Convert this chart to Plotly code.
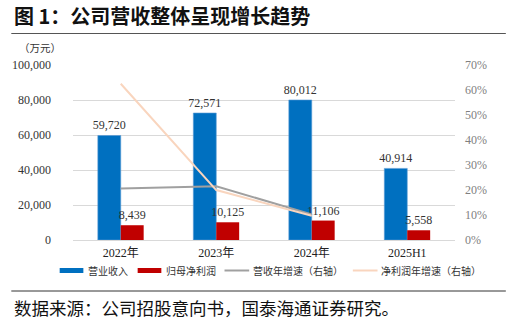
import plotly.graph_objects as go

# Data (万元 / growth rates)
years = ["2022年", "2023年", "2024年", "2025H1"]
revenue = [59720, 72571, 80012, 40914]
net_profit = [8439, 10125, 11106, 5558]
growth_years = ["2022年", "2023年", "2024年"]
revenue_growth = [0.206, 0.215, 0.1025]
profit_growth = [0.625, 0.1998, 0.0969]

serif = "Liberation Serif, Times New Roman, serif"
cjk = "Noto Sans CJK SC, sans-serif"

BLUE = "#0070C0"
RED = "#C00000"
GRAY = "#A0A0A0"
PEACH = "#F9D5BE"

fig = go.Figure()
fig.add_trace(go.Bar(
    x=years, y=revenue, name="营业收入", marker=dict(color=BLUE, line=dict(color="#5B9BD5", width=0.6)),
    text=[f"{v:,}" for v in revenue], textposition="outside", constraintext="none",
    textfont=dict(family=serif, size=12, color="#333333"), cliponaxis=False,
))
fig.add_trace(go.Bar(
    x=years, y=net_profit, name="归母净利润", marker=dict(color=RED, line=dict(width=0)),
    text=[f"{v:,}" for v in net_profit], textposition="outside", constraintext="none",
    textfont=dict(family=serif, size=12, color="#333333"), cliponaxis=False,
))
fig.add_trace(go.Scatter(
    x=growth_years, y=revenue_growth, name="营收年增速（右轴）", yaxis="y2",
    mode="lines", line=dict(color=GRAY, width=2),
))
fig.add_trace(go.Scatter(
    x=growth_years, y=profit_growth, name="净利润年增速（右轴）", yaxis="y2",
    mode="lines", line=dict(color=PEACH, width=2),
))

# Plot area in pixels
W, H = 513, 323
L, R, T, B = 68.5, 455.5, 65, 240

fig.update_layout(
    width=W, height=H,
    margin=dict(l=L, r=W - R, t=T, b=H - B, pad=0),
    paper_bgcolor="white", plot_bgcolor="white",
    barmode="group", bargap=0.52, bargroupgap=0,
    showlegend=False,
    xaxis=dict(
        type="category", categoryorder="array", categoryarray=years,
        showgrid=False, showline=False, ticks="",
        tickfont=dict(family=serif + ", " + cjk, size=12, color="#222222"),
        ticklabelstandoff=4,
    ),
    yaxis=dict(
        range=[0, 100000], dtick=20000, tickformat=",d",
        showgrid=True, gridcolor="#D9D9D9", gridwidth=1,
        zeroline=True, zerolinecolor="#D9D9D9", zerolinewidth=1,
        showline=False, ticks="",
        tickfont=dict(family=serif, size=12, color="#333333"),
        ticklabelstandoff=21,
    ),
    yaxis2=dict(
        overlaying="y", side="right", range=[0, 0.7], dtick=0.1, tickformat=".0%",
        showgrid=False, zeroline=False, showline=False, ticks="",
        tickfont=dict(family=serif, size=12, color="#7F7F7F"),
        ticklabelstandoff=9,
    ),
)

# Convert page pixels to paper coordinates (paper = plot area)
def px_x(x):
    return (x - L) / (R - L)

def px_y(y):
    return (B - y) / (B - T)

annotations = []
shapes = []

# Title and rule
annotations.append(dict(
    text="<b>图 1：公司营收整体呈现增长趋势</b>", xref="paper", yref="paper",
    x=px_x(7), y=px_y(16), xanchor="left", yanchor="middle", showarrow=False,
    font=dict(family=cjk, size=20, color="#111111"),
))
shapes.append(dict(type="line", xref="paper", yref="paper",
                   x0=px_x(6), x1=px_x(507), y0=px_y(33.5), y1=px_y(33.5),
                   line=dict(color="#555555", width=1)))

# Unit label
annotations.append(dict(
    text="（万元）", xref="paper", yref="paper",
    x=px_x(12), y=px_y(47), xanchor="left", yanchor="middle", showarrow=False,
    font=dict(family=cjk, size=10.5, color="#333333"),
))

# Legend row
legend_items = [
    ("bar", BLUE, "营业收入", 55),
    ("bar", RED, "归母净利润", 134),
    ("line", GRAY, "营收年增速（右轴）", 222),
    ("line", PEACH, "净利润年增速（右轴）", 352),
]
ly = 270.5
for kind, color, label, x0 in legend_items:
    if kind == "bar":
        shapes.append(dict(type="rect", xref="paper", yref="paper",
                           x0=px_x(x0), x1=px_x(x0 + 24), y0=px_y(ly - 2.5), y1=px_y(ly + 2.5),
                           fillcolor=color, line=dict(width=0)))
    else:
        shapes.append(dict(type="line", xref="paper", yref="paper",
                           x0=px_x(x0), x1=px_x(x0 + 25), y0=px_y(ly), y1=px_y(ly),
                           line=dict(color=color, width=2)))
    annotations.append(dict(
        text=label, xref="paper", yref="paper",
        x=px_x(x0 + 27), y=px_y(ly), xanchor="left", yanchor="middle", showarrow=False,
        font=dict(family=cjk, size=10, color="#333333"),
    ))

# Bottom rule and source
shapes.append(dict(type="line", xref="paper", yref="paper",
                   x0=px_x(6), x1=px_x(507), y0=px_y(291), y1=px_y(291),
                   line=dict(color="#333333", width=1)))
annotations.append(dict(
    text="数据来源：公司招股意向书，国泰海通证券研究。", xref="paper", yref="paper",
    x=px_x(7), y=px_y(307), xanchor="left", yanchor="middle", showarrow=False,
    font=dict(family=cjk, size=17.5, color="#111111"),
))

fig.update_layout(annotations=annotations, shapes=shapes)
fig.write_html("out.html")
